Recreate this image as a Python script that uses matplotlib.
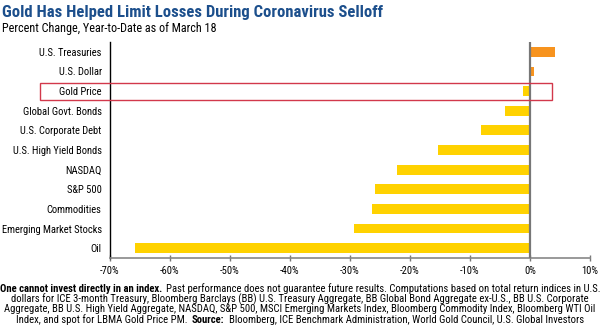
import matplotlib
matplotlib.use("Agg")
import matplotlib.pyplot as plt
from matplotlib import font_manager
from matplotlib.patches import Rectangle
from matplotlib.offsetbox import TextArea, HPacker, AnchoredOffsetbox

# Datos (variación % en lo que va del año al 18 de marzo)
categorias = ["U.S. Treasuries", "U.S. Dollar", "Gold Price", "Global Govt. Bonds",
              "U.S. Corporate Debt", "U.S. High Yield Bonds", "NASDAQ", "S&P 500",
              "Commodities", "Emerging Market Stocks", "Oil"]
valores = [4.2, 0.6, -1.1, -4.2, -8.2, -15.4, -22.1, -25.8, -26.3, -29.3, -65.9]
ticks = [-70, -60, -50, -40, -30, -20, -10, 0, 10]

# cada línea de la nota: lista de (texto, negrita)
nota = [
    [("One cannot invest directly in an index.", True),
     ("Past performance does not guarantee future results. Computations based on total return indices in U.S.", False)],
    [("dollars for ICE 3-month Treasury, Bloomberg Barclays (BB) U.S. Treasury Aggregate, BB Global Bond Aggregate ex-U.S., BB U.S. Corporate", False)],
    [("Aggregate, BB U.S. High Yield Aggregate, NASDAQ, S&P 500, MSCI Emerging Markets Index, Bloomberg Commodity Index, Bloomberg WTI Oil", False)],
    [("Index, and spot for LBMA Gold Price PM.", False), ("Source:", True),
     ("Bloomberg, ICE Benchmark Administration, World Gold Council, U.S. Global Investors", False)],
]

# Elegir una fuente estrecha si existe
instaladas = {f.name for f in font_manager.fontManager.ttflist}
candidatas = ["Liberation Sans Narrow", "DejaVu Sans Condensed", "Roboto Condensed",
              "Open Sans Condensed", "Roboto", "Liberation Sans"]
fuente = next((c for c in candidatas if c in instaladas), "DejaVu Sans")
FUENTE = [fuente, "DejaVu Sans"]
plt.rcParams["font.family"] = FUENTE

fig = plt.figure(figsize=(6.0, 3.28), dpi=100)
renderer = fig.canvas.get_renderer()


def ancho(txt, size, bold=False):
    t = fig.text(0, 0, txt, fontsize=size, fontweight="bold" if bold else "normal")
    w = t.get_window_extent(renderer).width
    t.remove()
    return w


def ajustar(txt, px, bold=False):
    # tamaño de letra para que el texto mida px pixeles
    return 10 * px / ancho(txt, 10, bold)


ax = fig.add_axes([110 / 600, 70 / 328, 480 / 600, 216 / 328])

y = list(range(len(categorias)))
colores = ["#F7931E" if v > 0 else "#FFD200" for v in valores]
ax.barh(y, valores, height=0.5, color=colores, zorder=2)

fs_eje = min(8.5, ajustar("Emerging Market Stocks", 100))
ax.set_ylim(len(categorias) - 0.5, -0.5)
ax.set_xlim(-70, 10)
ax.set_yticks(y)
ax.set_yticklabels(categorias, fontsize=fs_eje)
ax.set_xticks(ticks)
ax.set_xticklabels([f"{t}%" for t in ticks], fontsize=fs_eje)
ax.tick_params(axis="y", length=0, pad=6)
ax.tick_params(axis="x", length=4, width=1, color="#777777", direction="inout", pad=4)

for lado in ["top", "right"]:
    ax.spines[lado].set_visible(False)
ax.spines["left"].set_color("black")
ax.spines["left"].set_linewidth(1)
ax.spines["bottom"].set_color("#888888")
ax.spines["bottom"].set_linewidth(1.2)
ax.axvline(0, color="#777777", lw=1.6, zorder=3)

# Recuadro para el oro
i_oro = categorias.index("Gold Price")
x0 = -70 - 70 / 6.0
ax.add_patch(Rectangle((x0, i_oro - 0.43), 3.7 - x0, 0.86, fill=False,
                       edgecolor="#D2384B", lw=1.0, clip_on=False, zorder=4))

# Títulos
titulo = "Gold Has Helped Limit Losses During Coronavirus Selloff"
subtitulo = "Percent Change, Year-to-Date as of March 18"
fig.text(0.004, 0.962, titulo, fontsize=min(12, ajustar(titulo, 390, True)),
         fontweight="bold", color="#1C4F8C", va="center")
fig.text(0.004, 0.913, subtitulo, fontsize=min(10, ajustar(subtitulo, 213)),
         color="black", va="center")

# Nota al pie: una caja centrada por línea
sep = 3
w_linea1 = sum(ancho(t, 10, b) for t, b in nota[0]) + sep * 10 / 7.5
fs = 10 * 594 / w_linea1
y_lineas = [288.5, 299, 309.5, 320]

for partes, yl in zip(nota, y_lineas):
    hijos = [TextArea(t, textprops=dict(fontsize=fs, fontweight="bold" if b else "normal",
                                        family=FUENTE)) for t, b in partes]
    fila = HPacker(children=hijos, sep=sep, pad=0, align="baseline")
    caja = AnchoredOffsetbox(loc="center", child=fila, frameon=False,
                             bbox_to_anchor=(0.5, 1 - yl / 328), bbox_transform=fig.transFigure,
                             borderpad=0, pad=0)
    fig.add_artist(caja)

fig.savefig("out.png", dpi=100)
